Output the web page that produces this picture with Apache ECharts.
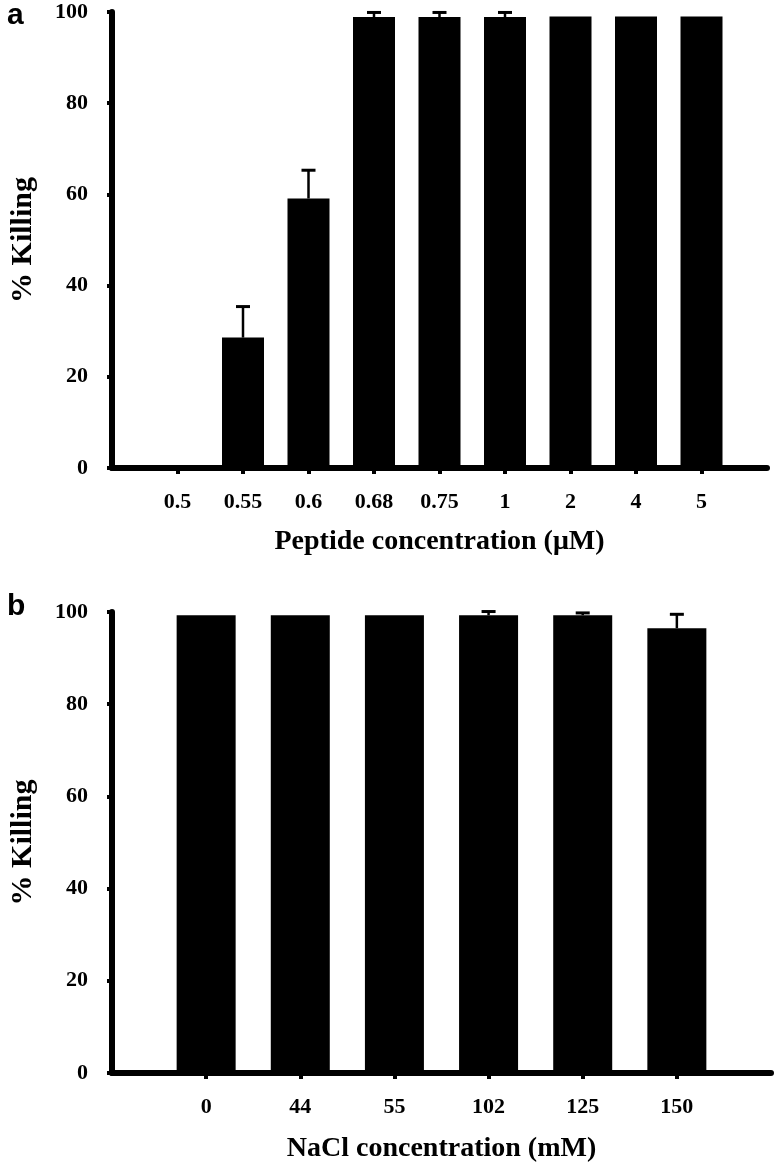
<!DOCTYPE html>
<html>
<head>
<meta charset="utf-8">
<script src="https://cdn.jsdelivr.net/npm/echarts@6/dist/echarts.min.js"></script>
<style>
html,body{margin:0;padding:0;background:#fff;}
#c{width:774px;height:1170px;}
</style>
</head>
<body>
<div id="c"></div>
<script>
// Panel a data
const peptideConc = ['0.5', '0.55', '0.6', '0.68', '0.75', '1', '2', '4', '5'];
const peptideKill = [0, 28.6, 59.1, 98.9, 98.9, 98.9, 99.0, 99.0, 99.0];
const peptideErr = [0, 6.8, 6.2, 1.0, 1.0, 1.0, 0, 0, 0];
// Panel b data
const naclConc = ['0', '44', '55', '102', '125', '150'];
const naclKill = [99.3, 99.3, 99.3, 99.3, 99.3, 96.5];
const naclErr = [0, 0, 0, 0.8, 0.5, 3.0];
const yTicks = [0, 20, 40, 60, 80, 100];

const serif = '"Liberation Serif", "Times New Roman", serif';

function padCats(c) { return [''].concat(c, ['']); }
function padVals(v) { return [null].concat(v, [null]); }
function errData(vals, errs) {
  return vals.map((v, i) => [i + 1, v, errs[i]]).filter(d => d[2] > 0);
}
function errRender(params, api) {
  const x = api.value(0), v = api.value(1), e = api.value(2);
  const p0 = api.coord([x, v]);
  const p1 = api.coord([x, v + e]);
  const half = 7;
  return {
    type: 'group',
    children: [
      { type: 'line', shape: { x1: p0[0], y1: p0[1], x2: p1[0], y2: p1[1] }, style: { stroke: '#000', lineWidth: 2.5 } },
      { type: 'line', shape: { x1: p1[0] - half, y1: p1[1], x2: p1[0] + half, y2: p1[1] }, style: { stroke: '#000', lineWidth: 3 } }
    ]
  };
}

function xAxisCfg(gridIndex, cats, name, gap) {
  const n = cats.length + 2;
  return {
    type: 'category', gridIndex, data: padCats(cats), boundaryGap: false,
    axisLine: { lineStyle: { color: '#000', width: 6 } },
    axisTick: { show: true, length: 6, lineStyle: { color: '#000', width: 4 },
      interval: (i) => i > 0 && i < n - 1 },
    axisLabel: { interval: 0, color: '#000', fontFamily: serif, fontWeight: 'bold', fontSize: 22, margin: 23 },
    splitLine: { show: false },
    name, nameLocation: 'middle', nameGap: gap,
    nameTextStyle: { color: '#000', fontFamily: serif, fontWeight: 'bold', fontSize: 28 }
  };
}
function yAxisCfg(gridIndex) {
  return {
    type: 'value', gridIndex, min: yTicks[0], max: yTicks[yTicks.length - 1], interval: yTicks[1] - yTicks[0],
    axisLine: { show: true, lineStyle: { color: '#000', width: 6 } },
    axisTick: { show: true, length: 5, lineStyle: { color: '#000', width: 4 } },
    axisLabel: { color: '#000', fontFamily: serif, fontWeight: 'bold', fontSize: 22, margin: 24 },
    splitLine: { show: false },
    name: '% Killing', nameLocation: 'middle', nameGap: 74,
    nameTextStyle: { color: '#000', fontFamily: serif, fontWeight: 'bold', fontSize: 30 }
  };
}

const chart = echarts.init(document.getElementById('c'));
chart.setOption({
  animation: false,
  backgroundColor: '#fff',
  grid: [
    { left: 111, right: 7, top: 12, height: 456 },
    { left: 111, right: 2, top: 612, height: 461 }
  ],
  xAxis: [
    xAxisCfg(0, peptideConc, 'Peptide concentration (\u03bcM)', 60),
    xAxisCfg(1, naclConc, 'NaCl concentration (mM)', 62)
  ],
  yAxis: [yAxisCfg(0), yAxisCfg(1)],
  graphic: [
    { type: 'text', left: 7, top: 1, style: { text: 'a', font: 'bold 30px "Liberation Sans", Arial, sans-serif', fill: '#000' } },
    { type: 'text', left: 7, top: 592, style: { text: 'b', font: 'bold 30px "Liberation Sans", Arial, sans-serif', fill: '#000' } }
  ],
  series: [
    { type: 'bar', xAxisIndex: 0, yAxisIndex: 0, data: padVals(peptideKill), barWidth: 42, itemStyle: { color: '#000' }, z: 2 },
    { type: 'custom', xAxisIndex: 0, yAxisIndex: 0, data: errData(peptideKill, peptideErr), renderItem: errRender, z: 3 },
    { type: 'bar', xAxisIndex: 1, yAxisIndex: 1, data: padVals(naclKill), barWidth: 59, itemStyle: { color: '#000' }, z: 2 },
    { type: 'custom', xAxisIndex: 1, yAxisIndex: 1, data: errData(naclKill, naclErr), renderItem: errRender, z: 3 }
  ]
});
</script>
</body>
</html>
